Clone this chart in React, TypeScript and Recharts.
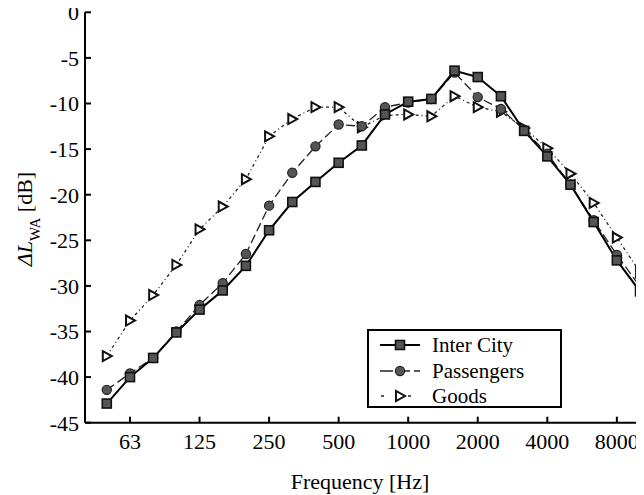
import React from "react";
import { LineChart, Line, XAxis, YAxis, Legend } from "recharts";

const bands = ["50","63","80","100","125","160","200","250","315","400","500","630","800","1000","1250","1600","2000","2500","3150","4000","5000","6300","8000","10000"];
const interCity = [-42.9,-40.0,-37.9,-35.1,-32.6,-30.5,-27.8,-23.9,-20.8,-18.6,-16.5,-14.6,-11.2,-9.8,-9.5,-6.4,-7.1,-9.2,-13.0,-15.8,-18.9,-23.0,-27.2,-30.6];
const passengers = [-41.4,-39.6,-37.9,-35.0,-32.1,-29.7,-26.5,-21.2,-17.6,-14.7,-12.3,-12.5,-10.4,-9.9,-9.5,-6.6,-9.3,-10.6,-12.9,-15.5,-18.9,-22.8,-26.6,-30.1];
const goods = [-37.7,-33.8,-31.0,-27.7,-23.8,-21.3,-18.3,-13.6,-11.7,-10.4,-10.4,-12.6,-11.3,-11.2,-11.4,-9.2,-10.4,-10.9,-12.7,-14.9,-17.7,-20.9,-24.7,-28.5];
const xTickBands = ["63","125","250","500","1000","2000","4000","8000"];
const yTicks = [0,-5,-10,-15,-20,-25,-30,-35,-40,-45];

const data = bands.map((b, i) => ({ idx: i, band: b, interCity: interCity[i], passengers: passengers[i], goods: goods[i] }));
const xTicks = xTickBands.map((b) => bands.indexOf(b));

const FONT = "Liberation Serif, Tinos, Times New Roman, Times, serif";
const FS = 22;

const SquareDot = (p: any) => {
  const { cx, cy, index } = p;
  if (cx == null || cy == null) return <g key={`s${index}`} />;
  return <rect key={`s${index}`} x={cx - 4.5} y={cy - 4.5} width={9} height={9} fill="#555" stroke="#111" strokeWidth={1.6} />;
};
const CircleDot = (p: any) => {
  const { cx, cy, index } = p;
  if (cx == null || cy == null) return <g key={`c${index}`} />;
  return <circle key={`c${index}`} cx={cx} cy={cy} r={4.6} fill="#555" stroke="#222" strokeWidth={1.2} />;
};
const TriDot = (p: any) => {
  const { cx, cy, index } = p;
  if (cx == null || cy == null) return <g key={`t${index}`} />;
  return <polygon key={`t${index}`} points={`${cx - 4},${cy - 5} ${cx - 4},${cy + 5} ${cx + 5},${cy}`} fill="#fff" stroke="#111" strokeWidth={2} />;
};

const LegendBox = () => {
  const rows = [
    { name: "Inter City", kind: "sq" },
    { name: "Passengers", kind: "ci" },
    { name: "Goods", kind: "tr" },
  ];
  return (
    <div style={{ position: "relative", width: 195, height: 79, boxSizing: "border-box", border: "2px solid #000", background: "#fff" }}>
      {rows.map((r, i) => {
        const cy = 14 + i * 25.5;
        return (
          <div key={r.name} style={{ position: "absolute", left: 0, top: cy - 13, height: 26, width: 190 }}>
            <svg width={60} height={26} style={{ position: "absolute", left: 0, top: 0 }}>
              {r.kind === "sq" && (
                <g>
                  <line x1={11} x2={51} y1={13} y2={13} stroke="#000" strokeWidth={2} />
                  <rect x={26.5} y={8.5} width={9} height={9} fill="#555" stroke="#111" strokeWidth={1.6} />
                </g>
              )}
              {r.kind === "ci" && (
                <g>
                  <line x1={11} x2={51} y1={13} y2={13} stroke="#222" strokeWidth={1.3} strokeDasharray="13 4" />
                  <circle cx={31} cy={13} r={4.6} fill="#555" stroke="#222" strokeWidth={1.2} />
                </g>
              )}
              {r.kind === "tr" && (
                <g>
                  <line x1={12} x2={51} y1={13} y2={13} stroke="#222" strokeWidth={1.3} strokeDasharray="3 14 6 4" />
                  <polygon points="27,8 27,18 36,13" fill="#fff" stroke="#111" strokeWidth={2} />
                </g>
              )}
            </svg>
            <span style={{ position: "absolute", left: 63, top: 0, lineHeight: "26px", fontFamily: FONT, fontSize: 21, color: "#000", whiteSpace: "nowrap" }}>{r.name}</span>
          </div>
        );
      })}
    </div>
  );
};

const YLabel = () => (
  <text transform="translate(24, 211) rotate(-90)" textAnchor="middle" fontFamily={FONT} fontSize={FS} fill="#000">
    <tspan fontStyle="italic">ΔL</tspan>
    <tspan fontSize={15} dy={8}>WA</tspan>
    <tspan dy={-8}> [dB]</tspan>
  </text>
);

const XLabel = () => (
  <text x={352} y={481} textAnchor="middle" fontFamily={FONT} fontSize={FS} fill="#000">Frequency [Hz]</text>
);

export default function App() {
  const tickStyle = { fontFamily: FONT, fontSize: FS, fill: "#000" };
  const axisLine = { stroke: "#000", strokeWidth: 2 };
  const tickLine = { stroke: "#000", strokeWidth: 2 };
  return (
    <div>
      <style>{"body{overflow:hidden} .recharts-surface{overflow:visible}"}</style>
      <LineChart width={645} height={487} data={data} margin={{ top: 4.3, right: 6, bottom: 12.3, left: 0 }}>
        <XAxis
          xAxisId="bottom"
          type="number"
          dataKey="idx"
          domain={[-0.94, 23.3]}
          ticks={xTicks}
          interval={0}
          allowDataOverflow
          tickFormatter={(v: number) => bands[v]}
          tick={tickStyle}
          tickSize={-6}
          tickMargin={17}
          height={60}
          axisLine={axisLine}
          tickLine={tickLine}
          label={{ content: () => <XLabel /> }}
        />
        <XAxis
          xAxisId="top"
          orientation="top"
          type="number"
          dataKey="idx"
          domain={[-0.94, 23.3]}
          ticks={xTicks}
          interval={0}
          allowDataOverflow
          tick={false}
          tickSize={-6}
          height={0}
          axisLine={axisLine}
          tickLine={tickLine}
        />
        <YAxis
          yAxisId="left"
          type="number"
          domain={[-45, 0]}
          ticks={yTicks}
          interval={0}
          allowDataOverflow
          tick={tickStyle}
          tickSize={-6}
          tickMargin={12}
          width={77}
          axisLine={axisLine}
          tickLine={tickLine}
          label={{ content: () => <YLabel /> }}
        />
        <YAxis
          yAxisId="right"
          orientation="right"
          type="number"
          domain={[-45, 0]}
          ticks={yTicks}
          interval={0}
          allowDataOverflow
          tick={false}
          tickSize={-6}
          width={0}
          axisLine={axisLine}
          tickLine={tickLine}
        />
        <Legend
          layout="vertical"
          align="center"
          verticalAlign="middle"
          content={() => <LegendBox />}
          wrapperStyle={{ position: "absolute", left: 359, top: 321, width: 195, height: 79 }}
        />
        <Line xAxisId="bottom" yAxisId="left" dataKey="goods" name="Goods" stroke="#222" strokeWidth={1.3} strokeDasharray="3 3 1 3" dot={TriDot} activeDot={false} isAnimationActive={false} />
        <Line xAxisId="bottom" yAxisId="left" dataKey="passengers" name="Passengers" stroke="#222" strokeWidth={1.3} strokeDasharray="9 4" dot={CircleDot} activeDot={false} isAnimationActive={false} />
        <Line xAxisId="bottom" yAxisId="left" dataKey="interCity" name="Inter City" stroke="#000" strokeWidth={2} dot={SquareDot} activeDot={false} isAnimationActive={false} />
      </LineChart>
    </div>
  );
}
